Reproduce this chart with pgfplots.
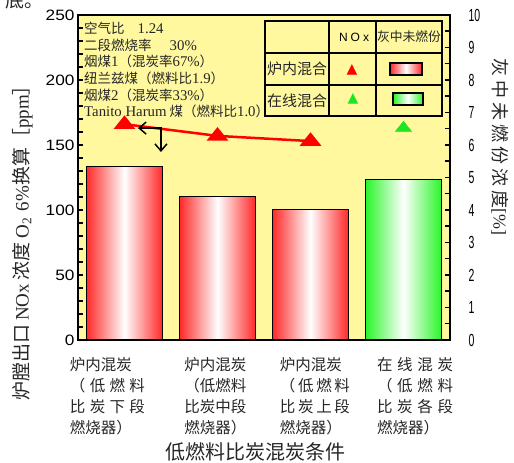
\documentclass[border=0pt]{standalone}
\usepackage{fontspec}
\setmainfont{Liberation Serif}
\newfontfamily\cjk{Noto Sans CJK SC}
\newfontfamily\tickfont[FakeStretch=1.15]{Liberation Sans}
\newfontfamily\rtickfont[FakeStretch=0.6]{Liberation Sans}
\newfontfamily\noxfont[LetterSpace=25]{Liberation Sans}
\newfontfamily\sym{DejaVu Sans}
\usepackage{pgfplots}
\pgfplotsset{compat=1.18}
\usetikzlibrary{arrows.meta}

\definecolor{bgyellow}{RGB}{255,248,158}
\definecolor{barred}{RGB}{255,40,40}
\definecolor{bargreen}{RGB}{40,245,40}
\definecolor{noxred}{RGB}{255,0,0}
\definecolor{noxgreen}{RGB}{30,230,30}

\newcommand\lat[1]{{\rmfamily #1}}
\newcommand\latb[1]{{\rmfamily\fontsize{14.8}{16.6}\selectfont #1}}
\newcommand\fs[2]{\fontsize{#1}{#2}\selectfont}

\begin{document}
\begin{tikzpicture}[x=1pt,y=1pt]
\useasboundingbox (0,0) rectangle (514,463);

% left axis: NOx
\begin{axis}[
  at={(78pt,123pt)}, anchor=south west,
  scale only axis, width=372pt, height=325pt,
  xmin=-0.5, xmax=3.5, ymin=0, ymax=250,
  axis background/.style={fill=bgyellow},
  axis line style={line width=2.5pt},
  clip=false,
  ytick={0,50,...,250}, minor y tick num=4,
  ytick pos=left, tick align=inside,
  major tick length=5pt, minor tick length=5pt,
  ytick style={black, line width=1.5pt},
  yticklabel style={font=\tickfont\fs{15}{15}},
  /pgf/number format/assume math mode=true,
  xtick={-0.183,0.978,2.048,3.124},
  xticklabels={
    {炉内混炭\\\makebox[75pt][s]{（\hfil 低\hfil 燃\hfil 料}\\\makebox[75pt][s]{比\hfil 炭\hfil 下\hfil 段}\\燃烧器）},
    {炉内混炭\\（低燃料\\比炭中段\\燃烧器）},
    {炉内混炭\\\makebox[70pt][s]{（\hfil 低\hfil 燃\hfil 料}\\\makebox[70pt][s]{比\hfil 炭\hfil 上\hfil 段}\\燃烧器）},
    {\makebox[76pt][s]{在\hfil 线\hfil 混\hfil 炭}\\\makebox[76pt][s]{（\hfil 低\hfil 燃\hfil 料}\\\makebox[76pt][s]{比\hfil 炭\hfil 各\hfil 段}\\燃烧器）}
  },
  xtick style={draw=none},
  xticklabel style={font=\cjk\fs{15.5}{21}, align=left, anchor=north, inner sep=0pt, yshift=-17pt, text=black!85},
]
\addplot[noxred, line width=2.5pt, mark=triangle*, mark size=9.5pt,
  mark options={solid, yscale=0.72}]
  coordinates {(0,166)(1,157)(2,153)};
\addplot[only marks, noxgreen, mark=triangle*, mark size=9.5pt,
  mark options={yscale=0.72}]
  coordinates {(3,163)};
\draw[line width=1.5pt, {Straight Barb[length=7pt,width=12pt]}-{Straight Barb[length=7pt,width=12pt]}]
  (axis cs:0.145,163) -- (axis cs:0.392,163) -- (axis cs:0.392,144.6);
\end{axis}

% right axis: unburnt carbon in ash
\begin{axis}[
  at={(78pt,123pt)}, anchor=south west,
  scale only axis, width=372pt, height=325pt,
  xmin=-0.5, xmax=3.5, ymin=0, ymax=10,
  axis x line=none, axis y line*=right,
  axis line style={line width=2.5pt, -},
  ytick={0,...,10}, minor y tick num=1, tick align=inside,
  major tick length=5pt, minor tick length=5pt,
  ytick style={black, line width=1.5pt},
  yticklabel style={font=\rtickfont\fs{17.5}{17.5}, anchor=west, xshift=15pt},
  /pgf/number format/assume math mode=true,
  ybar, bar width=0.82, bar shift=0pt,
]
\addplot[draw=black, line width=1pt, left color=barred, right color=barred, middle color=white]
  coordinates {(0,5.33)};
\addplot[draw=black, line width=1pt, left color=barred, right color=barred, middle color=white]
  coordinates {(1,4.40)};
\addplot[draw=black, line width=1pt, left color=barred, right color=barred, middle color=white]
  coordinates {(2,4.03)};
\addplot[draw=black, line width=1pt, left color=bargreen, right color=bargreen, middle color=white]
  coordinates {(3,4.95)};
\end{axis}

% conditions text
\node[anchor=north west, align=left, inner sep=0pt, font=\cjk\fs{13.5}{16.6}, text=black!85] at (84,441) {%
  空气比\hspace{13pt}\latb{1.24}\\
  二段燃烧率\hspace{18pt}\latb{30\%}\\
  烟煤\latb{1}（混炭率\latb{67\%}）\\
  纽兰兹煤（燃料比\latb{1.9}）\\
  烟煤\latb{2}（混炭率\latb{33\%}）\\
  \latb{Tanito Harum} 煤（燃料比\latb{1.0}）};

% legend table
\draw[line width=2.5pt] (265,347) rectangle (442,442);
\draw[line width=2.5pt] (329,347) -- (329,442) (376,347) -- (376,442)
  (265,410) -- (442,410) (265,378) -- (442,378);
\node[font=\noxfont\fs{12}{12}] at (354,426) {NOx};
\node[font=\cjk\fs{12.8}{13}, text=black!85] at (409,426) {灰中未燃份};
\node[font=\cjk\fs{15}{15}, text=black!85] at (297,394) {炉内混合};
\node[font=\cjk\fs{15}{15}, text=black!85] at (297,362) {在线混合};
\node[font=\sym\fs{14}{14}, text=noxred] at (352,393) {▲};
\node[font=\sym\fs{14}{14}, text=noxgreen] at (353,364) {▲};
\draw[line width=1.5pt, left color=barred, right color=barred, middle color=white] (390,388) rectangle (422,400);
\draw[line width=1.5pt, left color=bargreen, right color=bargreen, middle color=white] (393,358) rectangle (423,370);

% axis titles
\node[rotate=90, font=\cjk\fs{19}{19}, text=black!85] at (22.5,224.5)
  {炉膛出口\hspace{4pt}\lat{NOx}\hspace{4pt}浓度\hspace{4pt}\lat{O\textsubscript{2}}\hspace{6pt}\lat{6\%}换算［\lat{ppm}］};
\node[rotate=-90, font=\cjk\fs{18}{18}, text=black!85] at (500,316)
  {\makebox[150pt][s]{灰\hfil 中\hfil 未\hfil 燃\hfil 份\hfil 浓\hfil 度}\lat{[\%]}};
\node[font=\cjk\fs{20}{20}, text=black!85] at (255,11) {低燃料比炭混炭条件};
\node[anchor=base west, font=\cjk\fs{19}{19}, text=black!85] at (2,455) {底。};
\end{tikzpicture}
\end{document}
